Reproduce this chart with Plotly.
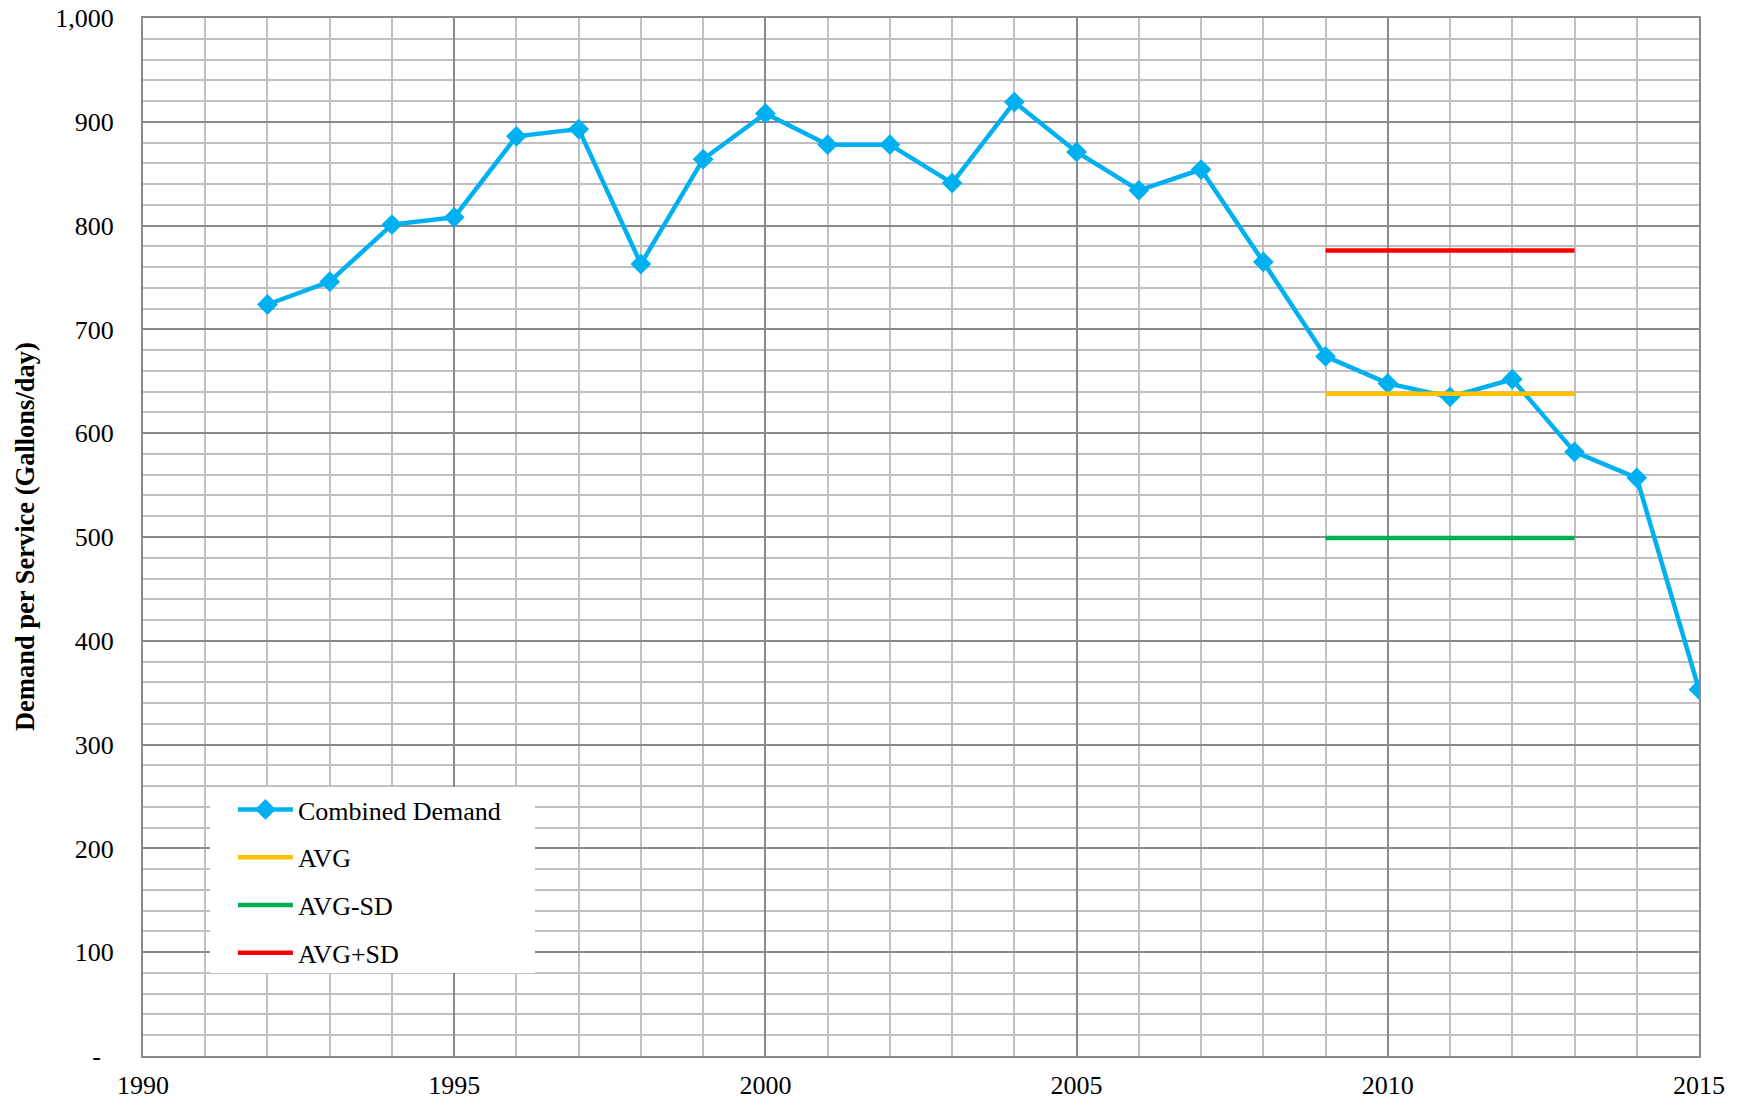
import plotly.graph_objects as go

years = list(range(1992, 2016))
combined_demand = [724, 746, 801, 808, 886, 893, 763, 864, 908, 878, 878, 841,
                   919, 871, 834, 854, 765, 674, 648, 635, 652, 582, 557, 353]
ref_years = [2009, 2013]
avg_val = [638, 638]
avg_minus_sd = [499, 499]
avg_plus_sd = [776, 776]

y_tickvals = list(range(0, 1001, 100))
y_ticktext = ["-\u00a0\u00a0", "100", "200", "300", "400", "500", "600", "700", "800", "900", "1,000"]
x_tickvals = [1990, 1995, 2000, 2005, 2010, 2015]

FONT = "Times New Roman, Liberation Serif, serif"

fig = go.Figure()
fig.add_trace(go.Scatter(x=years, y=combined_demand, mode="lines+markers", name="Combined Demand",
                         line=dict(color="#00B0F0", width=4.5),
                         marker=dict(symbol="diamond", size=16, color="#00B0F0"),
                         legendgroup="a"))
fig.add_trace(go.Scatter(x=ref_years, y=avg_val, mode="lines", name="AVG",
                         line=dict(color="#FFC000", width=4.5), legendgroup="b"))
fig.add_trace(go.Scatter(x=ref_years, y=avg_minus_sd, mode="lines", name="AVG-SD",
                         line=dict(color="#00B050", width=4.5), legendgroup="c"))
fig.add_trace(go.Scatter(x=ref_years, y=avg_plus_sd, mode="lines", name="AVG+SD",
                         line=dict(color="#FF0000", width=4.5), legendgroup="d"))

fig.update_layout(
    width=1745, height=1104,
    margin=dict(l=135, r=54, t=10, b=56),
    paper_bgcolor="white", plot_bgcolor="white",
    font=dict(family=FONT, size=26, color="black"),
    showlegend=True,
    legend=dict(x=0.0578, y=0.2601, xanchor="left", yanchor="top",
                bgcolor="rgba(0,0,0,0)", borderwidth=0,
                font=dict(family=FONT, size=26, color="black"),
                tracegroupgap=11, traceorder="grouped", itemwidth=55),
    shapes=[dict(type="rect", xref="paper", yref="paper",
                 x0=0.0431, x1=0.2519, y0=0.0800, y1=0.2592,
                 fillcolor="white", line=dict(width=0), layer="above")],
    xaxis=dict(range=[1990, 2015], tickvals=x_tickvals, ticks="",
               showgrid=True, gridcolor="#8a8a8a", gridwidth=1.5,
               minor=dict(dtick=1, tick0=1990, showgrid=True, gridcolor="#c0c0c0", gridwidth=1.5),
               showline=True, linecolor="#8a8a8a", linewidth=2, mirror=True,
               zeroline=False, ticklabelstandoff=5, automargin=False,
               ticklabeloverflow="allow",
               tickfont=dict(family=FONT, size=26)),
    yaxis=dict(range=[0, 1000], tickvals=y_tickvals, ticktext=y_ticktext, ticks="",
               showgrid=True, gridcolor="#8a8a8a", gridwidth=1.5,
               minor=dict(dtick=20, tick0=0, showgrid=True, gridcolor="#c0c0c0", gridwidth=1.5),
               showline=True, linecolor="#8a8a8a", linewidth=2, mirror=True,
               zeroline=False, ticklabelstandoff=22, automargin=False,
               ticklabeloverflow="allow",
               tickfont=dict(family=FONT, size=26)),
    annotations=[dict(text="<b>Demand per Service (Gallons/day)</b>", textangle=-90,
                      xref="paper", yref="paper", x=-0.0758, y=0.5,
                      xanchor="center", yanchor="middle", showarrow=False,
                      font=dict(family=FONT, size=26.5, color="black"))],
)

fig.write_html("out.html")
